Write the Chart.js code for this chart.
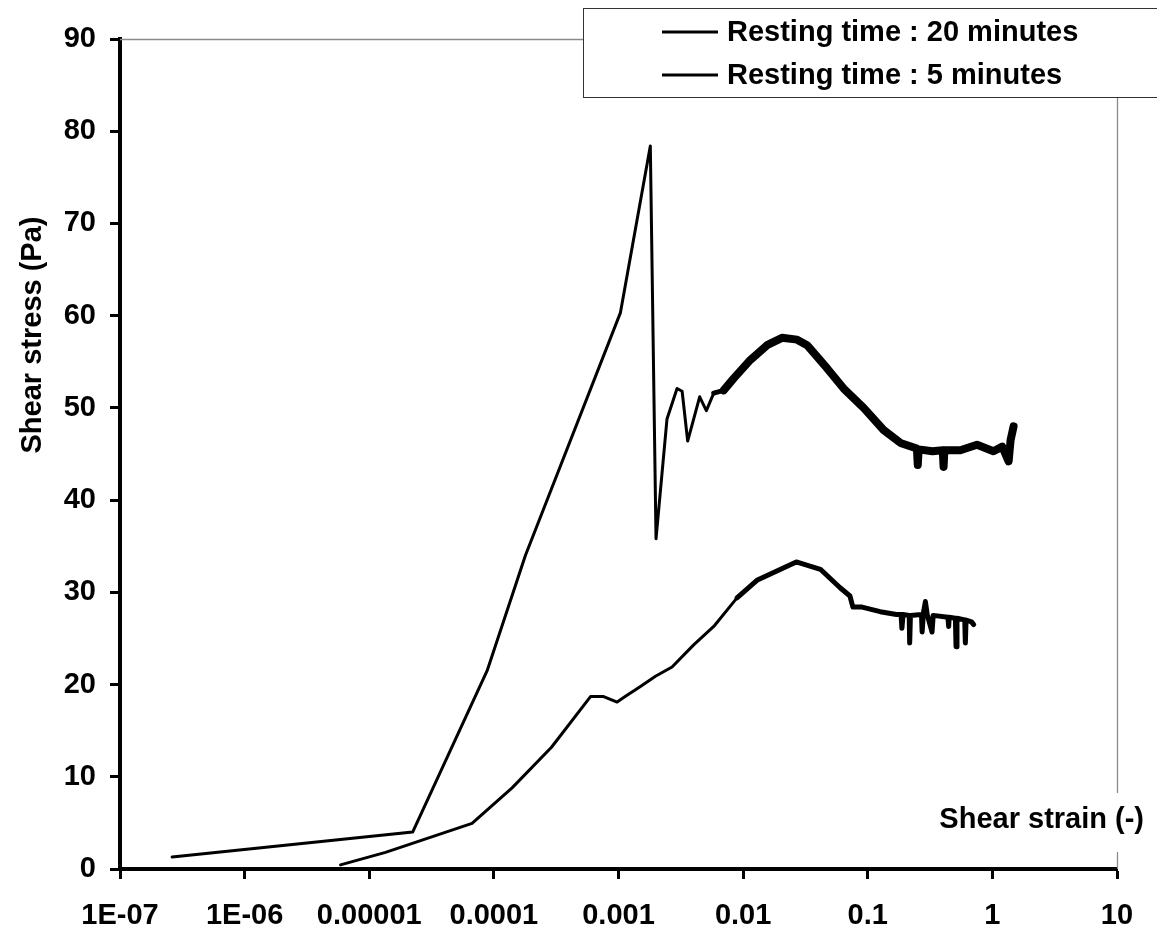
<!DOCTYPE html>
<html>
<head>
<meta charset="utf-8">
<script src="https://cdn.jsdelivr.net/npm/chart.js@4"></script>
<style>
  html, body { margin: 0; padding: 0; background: #ffffff; }
  #wrap { width: 1157px; height: 933px; }
</style>
</head>
<body>
<div id="wrap"><canvas id="c" width="1157" height="933"></canvas></div>
<script>
// ---- data ----
const xTickValues = [1e-7, 1e-6, 1e-5, 1e-4, 1e-3, 1e-2, 1e-1, 1, 10];
const xTickLabels = ['1E-07', '1E-06', '0.00001', '0.0001', '0.001', '0.01', '0.1', '1', '10'];
const seriesLabels = ['Resting time : 20 minutes', 'Resting time : 5 minutes'];
const xTitle = 'Shear strain (-)';
const yTitle = 'Shear stress (Pa)';

const strain20 = [2.62e-7, 2.23e-5, 8.83e-5, 1.79e-4, 1.035e-3, 1.80e-3, 2.0e-3, 2.45e-3, 2.95e-3, 3.24e-3,
  3.59e-3, 4.48e-3, 5.07e-3, 5.81e-3, 6.98e-3, 8.4e-3, 0.01143, 0.01556, 0.0205, 0.0271,
  0.0326, 0.0471, 0.0641, 0.0927, 0.134, 0.183, 0.248, 0.252, 0.256, 0.33,
  0.40, 0.406, 0.412, 0.553, 0.753, 1.02, 1.2, 1.35, 1.4, 1.48];
const stress20 = [1.3, 4.0, 21.5, 34.0, 60.3, 78.4, 35.8, 48.8, 52.1, 51.8,
  46.4, 51.2, 49.7, 51.6, 51.9, 53.2, 55.2, 56.8, 57.6, 57.4,
  56.8, 54.3, 52.1, 50.0, 47.6, 46.2, 45.6, 43.8, 45.5, 45.3,
  45.4, 43.6, 45.4, 45.4, 46.0, 45.3, 45.8, 44.2, 46.5, 48.0];

const strain5 = [5.88e-6, 1.35e-5, 6.68e-5, 1.4e-4, 2.9e-4, 5.96e-4, 7.6e-4, 9.75e-4, 1.13e-3, 1.5e-3,
  1.98e-3, 2.69e-3, 4.01e-3, 5.81e-3, 8.93e-3, 1.29e-2, 2.67e-2, 0.0417, 0.06, 0.072,
  0.076, 0.09, 0.126, 0.17, 0.185, 0.188, 0.192, 0.215, 0.217, 0.22,
  0.27, 0.273, 0.28, 0.29, 0.30, 0.328, 0.335, 0.44, 0.446, 0.45,
  0.505, 0.511, 0.52, 0.60, 0.607, 0.615, 0.68, 0.708];
const stress5 = [0.45, 1.8, 4.95, 8.8, 13.2, 18.7, 18.7, 18.1, 18.7, 19.8,
  20.9, 21.9, 24.3, 26.3, 29.4, 31.3, 33.3, 32.5, 30.5, 29.6,
  28.4, 28.4, 27.9, 27.6, 27.6, 26.1, 27.6, 27.5, 24.5, 27.5,
  27.6, 25.7, 27.8, 29.0, 27.6, 25.7, 27.5, 27.3, 26.3, 27.3,
  27.2, 24.1, 27.2, 27.0, 24.5, 27.0, 26.8, 26.5];

// ---- styling ----
const FONT_FAMILY = '"Liberation Sans", Arial, Helvetica, sans-serif';
const FONT_SIZE = 29;
const tickFont = { family: FONT_FAMILY, size: FONT_SIZE, weight: 'bold' };

function toPoints(xs, ys) { return xs.map((x, i) => ({ x: x, y: ys[i] })); }

const decorPlugin = {
  id: 'decor',
  beforeDatasetsDraw(chart) {
    const { ctx, chartArea: a } = chart;
    ctx.save();
    ctx.strokeStyle = '#8a8a8a';
    ctx.lineWidth = 1.3;
    ctx.beginPath();
    ctx.moveTo(a.left, a.top + 0.5);
    ctx.lineTo(a.right + 0.5, a.top + 0.5);
    ctx.lineTo(a.right + 0.5, a.bottom);
    ctx.stroke();
    ctx.restore();
  },
  afterDraw(chart) {
    const { ctx } = chart;
    ctx.save();
    ctx.font = 'bold ' + FONT_SIZE + 'px ' + FONT_FAMILY;
    // x-axis title with white box over right border
    const tw = ctx.measureText(xTitle).width;
    const tRight = 1144, tCy = 820;
    ctx.fillStyle = '#ffffff';
    ctx.fillRect(tRight - tw - 4, tCy - 27, tw + 8, 59);
    ctx.fillStyle = '#000000';
    ctx.textAlign = 'right';
    ctx.textBaseline = 'middle';
    ctx.fillText(xTitle, tRight, tCy);
    // y-axis title
    ctx.save();
    ctx.translate(33, 335);
    ctx.rotate(-Math.PI / 2);
    ctx.textAlign = 'center';
    ctx.textBaseline = 'middle';
    ctx.fillText(yTitle, 0, 0);
    ctx.restore();
    // legend box
    const lx = 583.5, ly = 8.5, lw = 600, lh = 89;
    ctx.fillStyle = '#ffffff';
    ctx.fillRect(lx, ly, lw, lh);
    ctx.strokeStyle = '#333333';
    ctx.lineWidth = 1;
    ctx.strokeRect(lx, ly, lw, lh);
    const rows = [32, 75];
    chart.data.datasets.forEach((ds, i) => {
      const y = rows[i];
      ctx.strokeStyle = ds.borderColor;
      ctx.lineWidth = 3;
      ctx.beginPath();
      ctx.moveTo(662, y);
      ctx.lineTo(718, y);
      ctx.stroke();
      ctx.fillStyle = '#000000';
      ctx.textAlign = 'left';
      ctx.textBaseline = 'middle';
      ctx.fillText(ds.label, 727, y + 1);
    });
    ctx.restore();
  }
};

const AREA_LEFT = 120, AREA_TOP = 39, AREA_RIGHT = 1117, AREA_BOTTOM = 869;

new Chart(document.getElementById('c'), {
  type: 'line',
  data: {
    datasets: [
      {
        label: seriesLabels[0],
        data: toPoints(strain20, stress20),
        borderColor: '#000000',
        borderWidth: 3,
        pointRadius: 0,
        tension: 0,
        fill: false,
        borderJoinStyle: 'round',
        borderCapStyle: 'round',
        segment: { borderWidth: c => (c.p0.parsed.x >= 0.0065 ? 8 : (c.p0.parsed.x >= 0.0055 ? 5 : 3)) }
      },
      {
        label: seriesLabels[1],
        data: toPoints(strain5, stress5),
        borderColor: '#000000',
        borderWidth: 3,
        pointRadius: 0,
        tension: 0,
        fill: false,
        borderJoinStyle: 'round',
        borderCapStyle: 'round',
        segment: { borderWidth: c => (c.p0.parsed.x >= 0.006 ? 5 : 3) }
      }
    ]
  },
  options: {
    responsive: false,
    animation: false,
    devicePixelRatio: 1,
    layout: { padding: { left: 0, top: AREA_TOP, right: 1157 - AREA_RIGHT, bottom: 0 } },
    plugins: { legend: { display: false }, tooltip: { enabled: false } },
    scales: {
      x: {
        type: 'logarithmic',
        min: 1e-7,
        max: 10,
        afterBuildTicks: s => { s.ticks = xTickValues.map(v => ({ value: v })); },
        afterFit: s => { s.height = 933 - AREA_BOTTOM; },
        ticks: {
          autoSkip: false,
          maxRotation: 0,
          padding: 20,
          color: '#000000',
          font: tickFont,
          callback: (v, i) => xTickLabels[i]
        },
        grid: { drawOnChartArea: false, drawTicks: true, tickLength: 10, tickWidth: 3, tickColor: '#000000' },
        border: { display: true, color: '#000000', width: 4 }
      },
      y: {
        type: 'linear',
        min: 0,
        max: 90,
        afterFit: s => { s.width = AREA_LEFT; },
        ticks: { stepSize: 10, padding: 14, color: '#000000', font: tickFont },
        grid: { drawOnChartArea: false, drawTicks: true, tickLength: 10, tickWidth: 3, tickColor: '#000000' },
        border: { display: true, color: '#000000', width: 4 }
      }
    }
  },
  plugins: [decorPlugin]
});
</script>
</body>
</html>
